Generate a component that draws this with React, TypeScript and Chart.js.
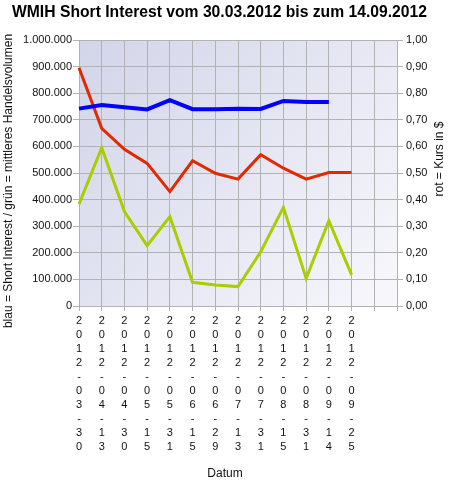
import { useEffect, useRef } from "react"
import { Chart, registerables } from "chart.js"

Chart.register(...registerables)

// Stichtage (x axis), two empty slots at the end like in the original
const dates = [
  "2012-03-30",
  "2012-04-13",
  "2012-04-30",
  "2012-05-15",
  "2012-05-31",
  "2012-06-15",
  "2012-06-29",
  "2012-07-13",
  "2012-07-31",
  "2012-08-15",
  "2012-08-31",
  "2012-09-14",
  "2012-09-25",
  "",
  "",
]

// blau = Short Interest
const shortInterest = [742000, 756000, 747000, 739000, 774000, 740000, 740000, 742000, 741000, 771000, 767000, 767000]
// rot = Kurs in $
const kurs = [0.896, 0.668, 0.589, 0.536, 0.43, 0.546, 0.499, 0.477, 0.569, 0.518, 0.477, 0.502, 0.502]
// grün = mittleres Handelsvolumen
const volumen = [383000, 595000, 355000, 227000, 336000, 89000, 79000, 73000, 204000, 371000, 104000, 321000, 117000]

const FONT = "'Liberation Sans', Arial, sans-serif"

const fmtThousands = (v: number) => String(Math.round(v)).replace(/\B(?=(\d{3})+(?!\d))/g, ".")

// gradient background of the plot area
const backgroundPlugin = {
  id: "plotBackground",
  beforeDraw(chart: Chart) {
    const { ctx, chartArea } = chart
    if (!chartArea) return
    const { left, top, right, bottom } = chartArea
    const g = ctx.createLinearGradient(left, top, right, bottom)
    g.addColorStop(0, "#d2d4e9")
    g.addColorStop(1, "#f8f8fc")
    ctx.save()
    ctx.fillStyle = g
    ctx.fillRect(left, top, right - left, bottom - top)
    ctx.restore()
  },
}

// title and axis captions placed like in the original image
const captionsPlugin = {
  id: "captions",
  afterDraw(chart: Chart) {
    const { ctx } = chart
    ctx.save()
    ctx.fillStyle = "#000"
    ctx.font = `bold 15.7px ${FONT}`
    ctx.textAlign = "left"
    ctx.textBaseline = "alphabetic"
    ctx.fillText("WMIH Short Interest vom 30.03.2012 bis zum 14.09.2012", 12, 17)

    ctx.font = `12px ${FONT}`
    ctx.fillStyle = "#111"
    ctx.textAlign = "center"
    ctx.textBaseline = "middle"
    ctx.fillText("Datum", 225, 474)

    ctx.save()
    ctx.translate(9, 181)
    ctx.rotate(-Math.PI / 2)
    ctx.fillText("blau = Short Interest / grün = mittleres Handelsvolumen", 0, 0)
    ctx.restore()

    ctx.save()
    ctx.translate(440, 159)
    ctx.rotate(-Math.PI / 2)
    ctx.fillText("rot = Kurs in $", 0, 0)
    ctx.restore()

    ctx.restore()
  },
}

export default function App() {
  const canvasRef = useRef<HTMLCanvasElement>(null)
  const chartRef = useRef<Chart | null>(null)

  useEffect(() => {
    if (!canvasRef.current) return
    if (chartRef.current) chartRef.current.destroy()
    const ctx = canvasRef.current.getContext("2d")
    if (!ctx) return

    const gridColor = "#b2b2b2"
    const tickFont = { family: FONT, size: 11 }

    chartRef.current = new Chart(ctx, {
      type: "line",
      data: {
        labels: dates.map((d) => (d ? d.split("") : "")),
        datasets: [
          {
            label: "Short Interest",
            data: shortInterest,
            borderColor: "#0000ff",
            borderWidth: 4,
            yAxisID: "y",
            order: 0,
          },
          {
            label: "Kurs",
            data: kurs,
            borderColor: "#e02a00",
            borderWidth: 3,
            yAxisID: "y1",
            order: 1,
          },
          {
            label: "Handelsvolumen",
            data: volumen,
            borderColor: "#aacc00",
            borderWidth: 3,
            yAxisID: "y",
            order: 2,
          },
        ],
      },
      options: {
        responsive: false,
        animation: false,
        layout: { padding: { top: 40, left: 0, right: 0, bottom: 0 } },
        elements: {
          point: { radius: 0, hoverRadius: 0 },
          line: { tension: 0, fill: false },
        },
        plugins: {
          legend: { display: false },
          tooltip: { enabled: false },
          title: { display: false },
        },
        scales: {
          x: {
            type: "category",
            offset: false,
            grid: { color: gridColor, tickLength: 5 },
            border: { color: gridColor },
            ticks: {
              autoSkip: false,
              maxRotation: 0,
              minRotation: 0,
              padding: 3,
              color: "#111",
              font: { ...tickFont, lineHeight: 1.27 },
            },
            afterFit: (scale: any) => {
              scale.height = 177
            },
          },
          y: {
            position: "left",
            min: 0,
            max: 1000000,
            grid: { color: gridColor, tickLength: 6 },
            border: { color: gridColor },
            ticks: {
              stepSize: 100000,
              padding: 1,
              color: "#111",
              font: tickFont,
              callback: (v: any) => fmtThousands(Number(v)),
            },
            afterFit: (scale: any) => {
              scale.width = 79
            },
          },
          y1: {
            position: "right",
            min: 0,
            max: 1,
            grid: { color: gridColor, tickLength: 6, drawOnChartArea: false },
            border: { color: gridColor },
            ticks: {
              stepSize: 0.05,
              padding: 3,
              color: "#111",
              font: tickFont,
              callback: (v: any) => {
                const n = Math.round(Number(v) * 100)
                return n % 10 === 0 ? (n / 100).toFixed(2).replace(".", ",") : ""
              },
            },
            afterFit: (scale: any) => {
              scale.width = 58
            },
          },
        },
      },
      plugins: [backgroundPlugin, captionsPlugin],
    })

    return () => {
      if (chartRef.current) {
        chartRef.current.destroy()
        chartRef.current = null
      }
    }
  }, [])

  return (
    <div style={{ position: "absolute", left: 0, top: 0, width: 455, height: 483, background: "#fff" }}>
      <canvas ref={canvasRef} width={455} height={483} />
    </div>
  )
}
